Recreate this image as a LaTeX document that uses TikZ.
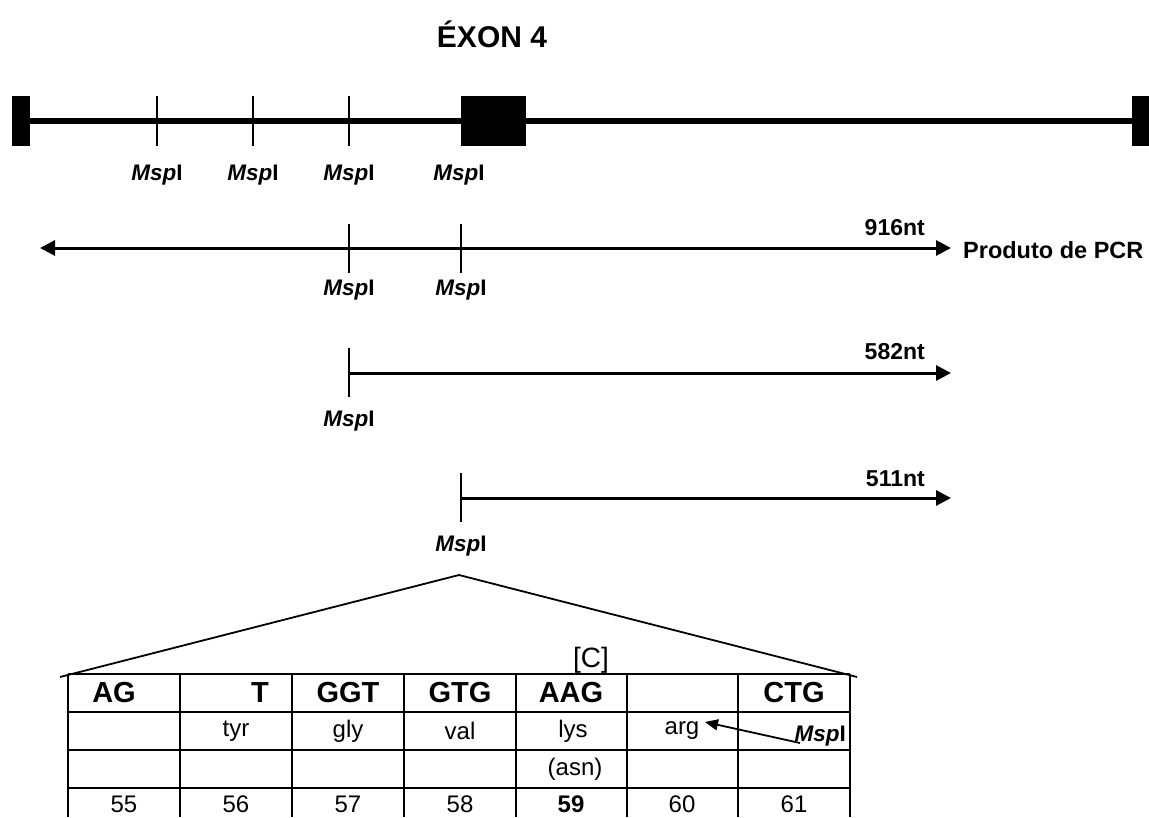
\documentclass[tikz,border=0pt]{standalone}
\usepackage{fontspec}
\setmainfont{Liberation Sans}
\usetikzlibrary{arrows.meta}
\newcommand{\mspl}{\textbf{\textit{Msp}I}}
\begin{document}
\begin{tikzpicture}[x=1pt,y=-1pt,
  blk/.style={fill=black,draw=none,inner sep=0pt,outer sep=0pt},
  lbl/.style={font=\fontsize{22.5}{26}\selectfont\bfseries,inner sep=0pt},
  nt/.style={font=\fontsize{23}{27}\selectfont\bfseries,inner sep=0pt,anchor=east},
  tickln/.style={line width=1.5pt},
  frag/.style={line width=3pt},
  tip/.style={-{Triangle[length=15pt,width=15pt]}},
  hdr/.style={font=\fontsize{29}{32}\selectfont\bfseries,inner sep=0pt},
  cell/.style={font=\fontsize{24}{28}\selectfont,inner sep=0pt},
  tab/.style={line width=2.5pt}]
\useasboundingbox (0,0) rectangle (1149,817);
% title
\node[font=\fontsize{30}{34}\selectfont\bfseries,inner sep=0pt] (title) at (492,34) {ÉXON 4};
% gene line
\node[blk,minimum width=18pt,minimum height=50pt] (lb) at (21,121) {};
\node[blk,minimum width=65pt,minimum height=50pt] (ex) at (493.5,121) {};
\node[blk,minimum width=17pt,minimum height=50pt] (rb) at (1140.5,121) {};
\draw[line width=5.5pt] (lb.east) -- (ex.west);
\draw[line width=5.5pt] (ex.east) -- (rb.west);
\foreach \x/\n in {157/a,253/b,349/c}{
  \coordinate (t1\n u) at (\x,96);
  \coordinate (t1\n d) at (\x,146);
  \draw[tickln] (t1\n u) -- (t1\n d);
  \node[lbl] (m1\n) at (\x,175) {\mspl};
}
\node[lbl] (m1d) at (459,175) {\mspl};
% PCR product
\coordinate (p2l) at (40,248);
\coordinate (p2r) at (951,248);
\draw[frag,{Triangle[length=15pt,width=15pt]}-{Triangle[length=15pt,width=15pt]}] (p2l) -- (p2r);
\foreach \x/\n in {349/a,461/b}{
  \coordinate (t2\n u) at (\x,224);
  \coordinate (t2\n d) at (\x,273);
  \draw[tickln] (t2\n u) -- (t2\n d);
  \node[lbl] (m2\n) at (\x,290) {\mspl};
}
\node[nt] (n916) at (925,228) {916nt};
\node[lbl,anchor=west,font=\fontsize{23.5}{27}\selectfont\bfseries] (pcr) at (963,250) {Produto de PCR};
% 582 fragment
\coordinate (p3l) at (349,373);
\coordinate (p3r) at (951,373);
\coordinate (t3u) at (349,348);
\coordinate (t3d) at (349,397);
\draw[frag,tip] (p3l) -- (p3r);
\draw[tickln] (t3u) -- (t3d);
\node[nt] (n582) at (925,352) {582nt};
\node[lbl] (m3) at (349,421) {\mspl};
% 511 fragment
\coordinate (p4l) at (461,498);
\coordinate (p4r) at (951,498);
\coordinate (t4u) at (461,473);
\coordinate (t4d) at (461,522);
\draw[frag,tip] (p4l) -- (p4r);
\draw[tickln] (t4u) -- (t4d);
\node[nt] (n511) at (925,479) {511nt};
\node[lbl] (m4) at (461,546) {\mspl};
% zoom triangle
\coordinate (apex) at (459,575);
\coordinate (tl) at (60,677);
\coordinate (tr) at (857,677);
\draw[line width=1.8pt] (tl) -- (apex) -- (tr);
% table grid
\foreach \y in {674,712,750,788}{ \draw[tab] (68,\y) -- (850,\y); }
\foreach \x in {68,180,292,404,516,627,738,850}{ \draw[tab] (\x,674) -- (\x,817); }
\node[font=\fontsize{28}{32}\selectfont,inner sep=0pt] (cc) at (591,660) {[C]};
% row 1
\node[hdr] (h1) at (114,693) {AG};
\node[hdr,anchor=east] (h2) at (269,693) {T};
\node[hdr] (h3) at (348,693) {GGT};
\node[hdr] (h4) at (460,693) {GTG};
\node[hdr] (h5) at (571,693) {AAG};
\node[hdr] (h7) at (794,693) {CTG};
% row 2
\node[cell] (a2) at (236,731) {tyr};
\node[cell] (a3) at (348,731) {gly};
\node[cell] (a4) at (460,731) {val};
\node[cell] (a5) at (573,731) {lys};
\node[cell] (a6) at (682,731) {arg};
\node[lbl,anchor=east] (a7) at (846,736) {\mspl};
\coordinate (atail) at (800,743);
\coordinate (ahead) at (705,722);
\draw[line width=1.8pt,-{Triangle[length=13pt,width=11pt]}] (atail) -- (ahead);
% row 3
\node[cell] (b5) at (575,769) {(asn)};
% row 4
\node[cell] (n55) at (124,804) {55};
\node[cell] (n56) at (236,804) {56};
\node[cell] (n57) at (348,804) {57};
\node[cell] (n58) at (460,804) {58};
\node[cell,font=\fontsize{24}{28}\selectfont\bfseries] (n59) at (571,804) {59};
\node[cell] (n60) at (682,804) {60};
\node[cell] (n61) at (794,804) {61};
\end{tikzpicture}
\end{document}
